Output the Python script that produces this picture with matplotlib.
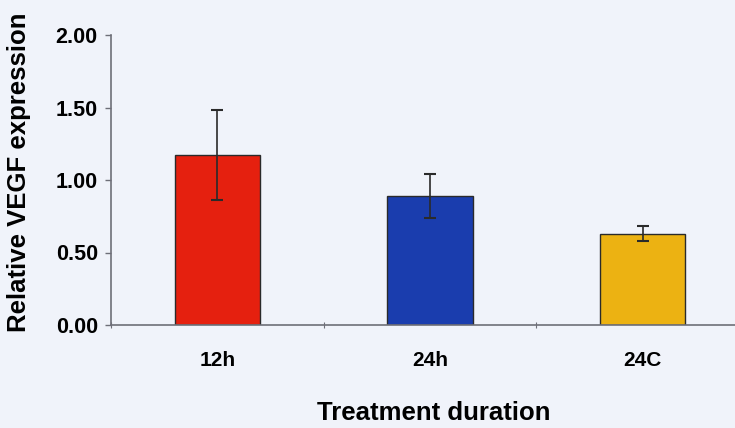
import matplotlib
matplotlib.use("Agg")
import matplotlib.pyplot as plt

categories = ["12h", "24h", "24C"]
values = [1.17, 0.89, 0.63]
errors = [0.31, 0.15, 0.05]
colors = ["#E5200F", "#1A3DAE", "#ECB212"]
yticks = [0.0, 0.5, 1.0, 1.5, 2.0]

plt.rcParams["font.family"] = ["Liberation Sans", "DejaVu Sans"]
plt.rcParams["font.weight"] = "bold"

bg = "#F0F3FA"
axis_col = "#6E6F78"

fig = plt.figure(figsize=(7.35, 4.28), dpi=100, facecolor=bg)
W, H = 735, 428
x0, x1 = 111, 749
y0, y1 = 325, 35
ax = fig.add_axes([x0 / W, 1 - y0 / H, (x1 - x0) / W, (y0 - y1) / H])
ax.set_facecolor(bg)

xs = range(len(categories))
ax.bar(xs, values, width=0.4, color=colors, edgecolor="#2A2A2A", linewidth=1.0, zorder=2)
ax.errorbar(xs, values, yerr=errors, fmt="none", ecolor="#2A2A2A",
            elinewidth=1.2, capsize=4, capthick=1.5, zorder=3)

ax.set_xlim(-0.5, 2.5)
ax.set_ylim(0, 2.0)
ax.set_yticks(yticks)
ax.set_yticklabels([f"{v:.2f}" for v in yticks], fontsize=15.5, fontweight="bold")

ax.set_xticks([-0.5, 0.5, 1.5], minor=False)
ax.set_xticklabels([])
ax.set_xticks(list(xs), minor=True)
ax.set_xticklabels(categories, minor=True, fontsize=15, fontweight="bold")
ax.tick_params(axis="x", which="major", length=5, color=axis_col, direction="inout")
ax.tick_params(axis="x", which="minor", length=0, pad=19)
ax.tick_params(axis="y", length=4.5, color=axis_col, width=1, pad=5)

for s in ["top", "right"]:
    ax.spines[s].set_visible(False)
for s in ["left", "bottom"]:
    ax.spines[s].set_color(axis_col)
    ax.spines[s].set_linewidth(1.2)

fig.text(434 / W, 1 - 420 / H, "Treatment duration", fontsize=18.5,
         fontweight="bold", ha="center", va="baseline")
fig.text(19 / W, 1 - 172 / H, "Relative VEGF expression", fontsize=18.5,
         fontweight="bold", ha="center", va="center", rotation=90)

fig.savefig("out.png", dpi=100, facecolor=bg)
